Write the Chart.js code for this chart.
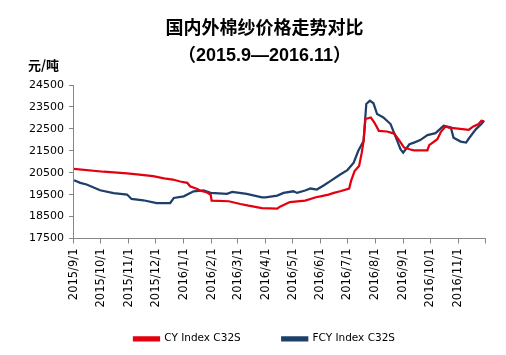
<!DOCTYPE html>
<html>
<head>
<meta charset="utf-8">
<script src="https://cdn.jsdelivr.net/npm/chart.js@4"></script>
<style>
html,body{margin:0;padding:0;background:#fff;}
#wrap{width:506px;height:355px;position:relative;}
</style>
</head>
<body>
<div id="wrap"><canvas id="c" width="506" height="355"></canvas></div>
<script>
// ---- data ----
const titleLines = ['国内外棉纱价格走势对比', '（2015.9—2016.11）'];
const unitLabel = '元/吨';
const seriesNames = ['CY Index C32S', 'FCY Index C32S'];
const tickDates = ['2015/9/1','2015/10/1','2015/11/1','2015/12/1','2016/1/1','2016/2/1','2016/3/1','2016/4/1','2016/5/1','2016/6/1','2016/7/1','2016/8/1','2016/9/1','2016/10/1','2016/11/1','2016/12/1'];
const tickLabels = ['2015/9/1','2015/10/1','2015/11/1','2015/12/1','2016/1/1','2016/2/1','2016/3/1','2016/4/1','2016/5/1','2016/6/1','2016/7/1','2016/8/1','2016/9/1','2016/10/1','2016/11/1',''];
const yTicks = [17500,18500,19500,20500,21500,22500,23500,24500];

const cyDates = ['2015/9/1','2015/10/4','2015/10/30','2015/11/10','2015/11/28','2015/12/10','2015/12/20','2015/12/28','2016/1/5','2016/1/8','2016/1/16','2016/1/19','2016/1/27','2016/1/31','2016/2/1','2016/2/20','2016/3/4','2016/3/13','2016/3/28','2016/4/14','2016/4/17','2016/4/28','2016/5/15','2016/5/28','2016/6/1','2016/6/10','2016/6/16','2016/6/23','2016/7/3','2016/7/5','2016/7/9','2016/7/14','2016/7/17','2016/7/19','2016/7/21','2016/7/27','2016/7/31','2016/8/5','2016/8/14','2016/8/22','2016/8/28','2016/9/2','2016/9/8','2016/9/13','2016/9/28','2016/9/30','2016/10/9','2016/10/13','2016/10/18','2016/10/22','2016/11/6','2016/11/13','2016/11/18','2016/11/24','2016/11/27','2016/11/30'];
const cyValues = [20680,20545,20470,20420,20345,20240,20190,20100,20040,19885,19760,19690,19600,19500,19230,19200,19075,19000,18890,18860,18955,19165,19230,19395,19425,19505,19580,19655,19780,20115,20575,20805,21415,21950,22950,23020,22790,22410,22380,22285,21950,21645,21570,21525,21525,21755,22030,22365,22610,22560,22490,22460,22610,22720,22870,22840];

const fcyDates = ['2015/9/1','2015/9/8','2015/9/15','2015/9/30','2015/10/15','2015/10/30','2015/11/4','2015/11/17','2015/12/2','2015/12/17','2015/12/21','2016/1/1','2016/1/12','2016/1/23','2016/1/31','2016/2/18','2016/2/24','2016/3/11','2016/3/28','2016/4/1','2016/4/14','2016/4/21','2016/5/2','2016/5/6','2016/5/15','2016/5/21','2016/5/28','2016/6/5','2016/6/12','2016/6/23','2016/7/1','2016/7/8','2016/7/13','2016/7/17','2016/7/19','2016/7/22','2016/7/26','2016/7/30','2016/8/3','2016/8/10','2016/8/18','2016/8/24','2016/8/29','2016/9/1','2016/9/8','2016/9/13','2016/9/20','2016/9/28','2016/10/7','2016/10/16','2016/10/24','2016/10/27','2016/11/4','2016/11/10','2016/11/13','2016/11/21','2016/11/27','2016/11/30'];
const fcyValues = [20160,20040,19965,19700,19570,19505,19305,19245,19120,19120,19350,19425,19655,19690,19580,19535,19625,19535,19380,19380,19460,19580,19655,19580,19690,19780,19735,19930,20115,20420,20620,20955,21490,21800,21950,23635,23785,23665,23175,23020,22720,22100,21570,21415,21800,21875,21990,22215,22305,22640,22560,22100,21920,21875,22060,22490,22720,22870];

// ---- helpers ----
const base = Date.UTC(2015, 8, 1);
function dayOf(s){ const p = s.split('/').map(Number); return (Date.UTC(p[0], p[1]-1, p[2]) - base) / 86400000; }
function pts(dates, vals){ return dates.map((d,i)=>({x: dayOf(d), y: vals[i]})); }
const tickDays = tickDates.map(dayOf);

const FONT = "'DejaVu Sans', 'Noto Sans CJK SC', sans-serif";
const TITLE_FONT = "'Liberation Sans', 'Noto Sans CJK SC', sans-serif";
const Y_SHIFT = 20;

const unitPlugin = {
  id: 'unitLabel',
  afterLayout(chart){
    const y = chart.scales.y;
    y.left -= Y_SHIFT; y.width += Y_SHIFT;
  },
  afterDraw(chart){
    const ctx = chart.ctx, a = chart.chartArea;
    ctx.save();
    ctx.font = "bold 13px 'Noto Sans CJK SC', sans-serif";
    ctx.fillStyle = '#000';
    ctx.textAlign = 'left';
    ctx.textBaseline = 'middle';
    ctx.fillText(unitLabel, a.left - 46, a.top - 20);
    ctx.restore();
  }
};

new Chart(document.getElementById('c'), {
  type: 'line',
  data: {
    datasets: [
      { label: seriesNames[0], data: pts(cyDates, cyValues), borderColor: '#E3000F', backgroundColor: '#E3000F', borderWidth: 2.25, pointRadius: 0, tension: 0, fill: false },
      { label: seriesNames[1], data: pts(fcyDates, fcyValues), borderColor: '#1F3F6B', backgroundColor: '#1F3F6B', borderWidth: 2.25, pointRadius: 0, tension: 0, fill: false }
    ]
  },
  options: {
    responsive: false,
    animation: false,
    devicePixelRatio: 1,
    layout: { padding: { left: 44, right: 21, top: 4, bottom: 1 } },
    plugins: {
      title: {
        display: true,
        text: titleLines,
        color: '#000',
        font: { family: TITLE_FONT, size: 18, weight: 'bold', lineHeight: 1.5 },
        padding: { top: 12, bottom: 15 }
      },
      legend: {
        position: 'bottom',
        labels: {
          boxWidth: 25, boxHeight: 3, color: '#000', font: { family: FONT, size: 10.5 }, padding: 10,
          generateLabels(chart){
            const items = Chart.defaults.plugins.legend.labels.generateLabels(chart);
            items.forEach((it, i) => { if (i < items.length - 1) it.text = it.text + '\u2003\u2003\u2003'; });
            return items;
          }
        }
      },
      tooltip: { enabled: false }
    },
    scales: {
      x: {
        type: 'linear',
        min: tickDays[0],
        max: tickDays[tickDays.length-1],
        afterBuildTicks(scale){ scale.ticks = tickDays.map(v => ({ value: v })); },
        afterFit(scale){ scale.height += 11; },
        ticks: {
          autoSkip: false,
          minRotation: 90,
          maxRotation: 90,
          padding: 5,
          color: '#000',
          font: { family: FONT, size: 11.5 },
          callback(value, index){ return tickLabels[index]; }
        },
        grid: { drawOnChartArea: false, drawTicks: true, tickLength: 5, color: '#868686' },
        border: { color: '#868686', width: 1 }
      },
      y: {
        min: yTicks[0],
        max: yTicks[yTicks.length-1],
        afterBuildTicks(scale){ scale.ticks = yTicks.map(v => ({ value: v })); },
        afterFit(scale){ scale.width -= Y_SHIFT; },
        ticks: { color: '#000', font: { family: FONT, size: 11 }, padding: 5, callback: v => String(v) },
        grid: { drawOnChartArea: false, drawTicks: true, tickLength: 5, color: '#868686' },
        border: { color: '#868686', width: 1 }
      }
    }
  },
  plugins: [unitPlugin]
});
</script>
</body>
</html>
